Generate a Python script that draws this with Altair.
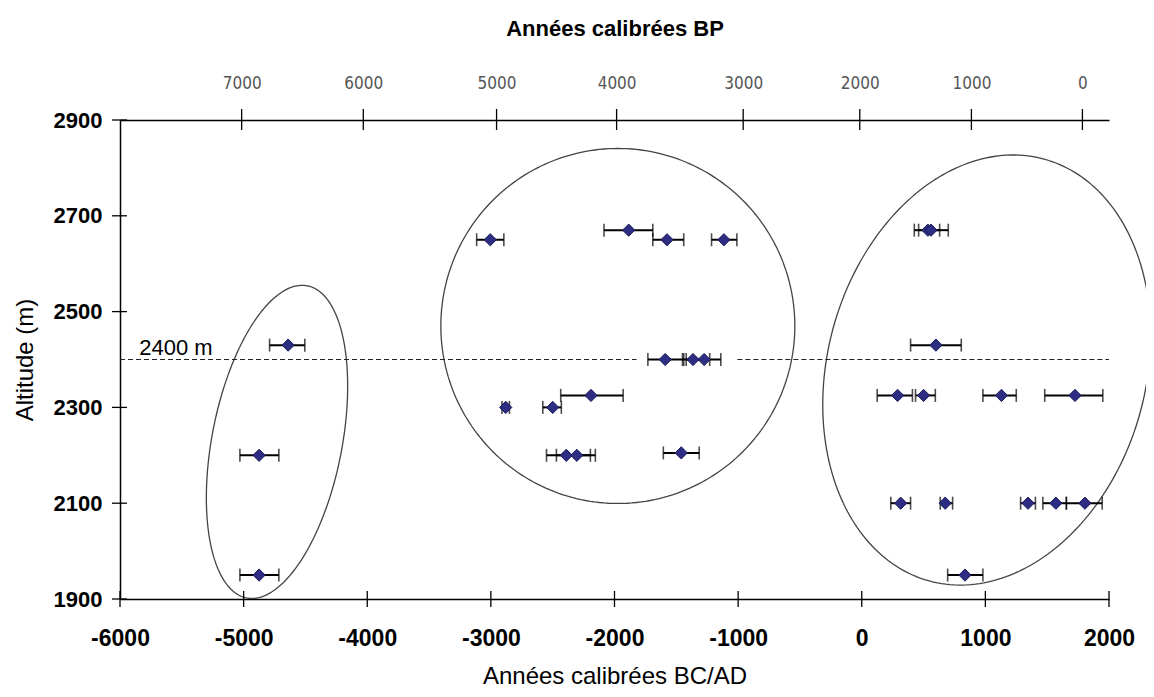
import altair as alt
import pandas as pd
import numpy as np

# ---- data ----
x_ad = [-4640, -4875, -4875,
        -3005, -1885, -1575, -1115, -1590, -1365, -1275, -2880, -2500, -2190, -2390, -2305, -1460,
        535, 560, 600, 290, 500, 1130, 1725, 315, 675, 1345, 1570, 1805, 835]
alt_m = [2430, 2200, 1950,
         2650, 2670, 2650, 2650, 2400, 2400, 2400, 2300, 2300, 2325, 2200, 2200, 2205,
         2670, 2670, 2430, 2325, 2325, 2325, 2325, 2100, 2100, 2100, 2100, 2100, 1950]
err_lo = [-4790, -5030, -5030,
          -3115, -2085, -1690, -1215, -1730, -1450, -1420, -2910, -2580, -2435, -2550, -2470, -1605,
          425, 460, 395, 125, 435, 980, 1480, 235, 635, 1285, 1465, 1655, 695]
err_hi = [-4505, -4715, -4715,
          -2895, -1690, -1440, -1010, -1440, -1230, -1140, -2850, -2430, -1930, -2195, -2155, -1315,
          630, 700, 805, 410, 595, 1250, 1950, 395, 735, 1405, 1655, 1945, 980]

bottom_ticks = [-6000, -5000, -4000, -3000, -2000, -1000, 0, 1000, 2000]
left_ticks = [1900, 2100, 2300, 2500, 2700, 2900]
top_tick_pos = [-5016, -4032, -2954, -1983, -959, -16, 887, 1785]
top_tick_lab = ["7000", "6000", "5000", "4000", "3000", "2000", "1000", "0"]

# reference line at 2400 m (two dashed segments)
ref_x1 = [-6000, -1006]
ref_x2 = [-1822, 2000]
ref_y = [2400, 2400]

# ellipses: centre (data units), semi-axes (px), angle (deg)
ell_cx = [-4730, -1973, 1011]
ell_cy = [2228, 2470, 2378]
ell_a = [159, 177.5, 218.6]
ell_b = [65, 177, 159.2]
ell_phi = [79, 90, 74.8]

W, H = 989, 479
XMIN, XMAX, YMIN, YMAX = -6000, 2000, 1900, 2900
kx = W / (XMAX - XMIN)
ky = H / (YMAX - YMIN)

FONT = "Liberation Sans, Arial, sans-serif"
NAVY = "#2D2D84"

pts = pd.DataFrame({"x": x_ad, "y": alt_m, "lo": err_lo, "hi": err_hi})
caps = pd.DataFrame({"x": err_lo + err_hi, "y": alt_m + alt_m})

rows = []
t = np.linspace(0, 2 * np.pi, 241)
for i in range(3):
    ph = np.deg2rad(ell_phi[i])
    dx = ell_a[i] * np.cos(t) * np.cos(ph) - ell_b[i] * np.sin(t) * np.sin(ph)
    dy = ell_a[i] * np.cos(t) * np.sin(ph) + ell_b[i] * np.sin(t) * np.cos(ph)
    for j in range(len(t)):
        rows.append({"g": i, "o": j, "x": ell_cx[i] + dx[j] / kx, "y": ell_cy[i] + dy[j] / ky})
ell = pd.DataFrame(rows)

xs = alt.Scale(domain=[XMIN, XMAX], nice=False, zero=False)
ys = alt.Scale(domain=[YMIN, YMAX], nice=False, zero=False)

bottom_axis = alt.Axis(orient="bottom", values=bottom_ticks, ticks=False, grid=False,
                       labelExpr="'' + datum.value",
                       labelFont=FONT, labelFontSize=23, labelFontWeight="bold", labelColor="#000",
                       labelPadding=28, labelFlush=False,
                       domainColor="#000", domainWidth=1.5,
                       title="Années calibrées BC/AD", titleFont=FONT, titleFontSize=24,
                       titleFontWeight="normal", titleColor="#000", titlePadding=14)
left_axis = alt.Axis(orient="left", values=left_ticks, ticks=False, grid=False,
                     labelExpr="'' + datum.value",
                     labelFont=FONT, labelFontSize=22, labelFontWeight="bold", labelColor="#000",
                     labelPadding=18, labelFlush=False,
                     domainColor="#000", domainWidth=1.5,
                     title="Altitude (m)", titleFont=FONT, titleFontSize=24,
                     titleFontWeight="normal", titleColor="#000", titlePadding=16)
top_axis = alt.Axis(orient="top", values=top_tick_pos, ticks=False, grid=False,
                    labelExpr="%s[indexof(%s, datum.value)]" % (str(top_tick_lab), str(top_tick_pos)),
                    labelFont="Liberation Sans Narrow, DejaVu Sans Condensed, Arial Narrow, sans-serif",
                    labelFontSize=17, labelColor="#555", labelPadding=28, labelFlush=False,
                    domainColor="#000", domainWidth=1.5,
                    title="Années calibrées BP", titleFont=FONT, titleFontSize=22,
                    titleFontWeight="bold", titleColor="#000", titlePadding=34)

ellipses = alt.Chart(ell).mark_line(color="#444", strokeWidth=1.3).encode(
    x=alt.X("x:Q", scale=xs, axis=None),
    y=alt.Y("y:Q", scale=ys, axis=None),
    detail="g:N", order="o:Q")

refdf = pd.DataFrame({"x": ref_x1, "x2": ref_x2, "y": ref_y})
ref = alt.Chart(refdf).mark_rule(color="#222", strokeWidth=1.2, strokeDash=[5, 3]).encode(
    x=alt.X("x:Q", scale=xs, axis=None), x2="x2:Q",
    y=alt.Y("y:Q", scale=ys, axis=None))

bars = alt.Chart(pts).mark_rule(color="#000", strokeWidth=2).encode(
    x=alt.X("lo:Q", scale=xs, axis=None), x2="hi:Q",
    y=alt.Y("y:Q", scale=ys, axis=None))

capm = alt.Chart(caps).mark_tick(color="#000", orient="vertical", size=13, thickness=1.6).encode(
    x=alt.X("x:Q", scale=xs, axis=None),
    y=alt.Y("y:Q", scale=ys, axis=None))

dots = alt.Chart(pts).mark_point(shape="diamond", filled=True, size=150, color=NAVY,
                                 stroke="#1a1a55", strokeWidth=1, opacity=1).encode(
    x=alt.X("x:Q", scale=xs, axis=bottom_axis),
    y=alt.Y("y:Q", scale=ys, axis=left_axis))

lab = alt.Chart(pd.DataFrame({"x": [-5844], "y": [2409], "t": ["2400 m"]})).mark_text(
    align="left", baseline="alphabetic", font=FONT, fontSize=22, color="#000").encode(
    x=alt.X("x:Q", scale=xs, axis=None), y=alt.Y("y:Q", scale=ys, axis=None), text="t:N")

btk = alt.Chart(pd.DataFrame({"x": bottom_ticks})).mark_rule(color="#000", strokeWidth=1.3).encode(
    x=alt.X("x:Q", scale=xs, axis=None), y=alt.value(H - 8), y2=alt.value(H + 8))

ttk = alt.Chart(pd.DataFrame({"x": top_tick_pos})).mark_rule(color="#000", strokeWidth=1.3).encode(
    x=alt.X("x:Q", scale=xs, axis=top_axis), y=alt.value(-11), y2=alt.value(10))

ltk = alt.Chart(pd.DataFrame({"y": left_ticks})).mark_rule(color="#000", strokeWidth=1.3).encode(
    y=alt.Y("y:Q", scale=ys, axis=None), x=alt.value(-8), x2=alt.value(7))

chart = alt.layer(ellipses, ref, bars, capm, dots, lab, btk, ttk, ltk).resolve_axis(
    x="independent", y="independent"
).properties(
    width=W, height=H,
    padding={"left": 112, "top": 112, "right": 37, "bottom": 90},
    autosize=alt.AutoSizeParams(type="none"),
    background="#ffffff"
).configure_view(stroke=None)

chart.save("out.html", embed_options={"renderer": "svg", "actions": False})
